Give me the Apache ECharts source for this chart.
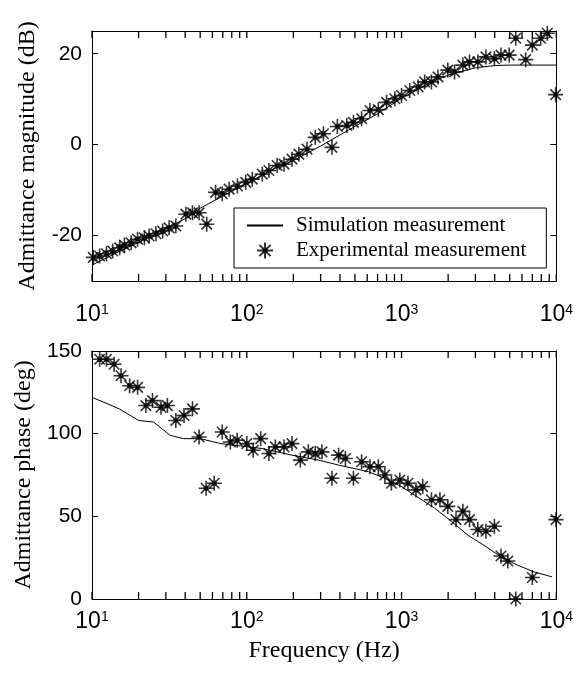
<!DOCTYPE html>
<html>
<head>
<meta charset="utf-8">
<script src="https://cdn.jsdelivr.net/npm/echarts@6/dist/echarts.min.js"></script>
<style>
html,body{margin:0;padding:0;background:#fff;}
#chart{width:576px;height:675px;}
</style>
</head>
<body>
<div id="chart"></div>
<script>
// ---- Data ----
const magExpFreq = [10.2,11.2,12.4,13.6,15.1,16.2,17.9,19.7,21.8,23.4,25.9,28.6,31.5,34.8,40.4,44.6,49.2,55.1,62.9,69.4,76.9,87,98.5,108.6,126,139,157,174,196,217,245,277,313,355,385,443,489,552,625,708,800,905,1000,1130,1280,1410,1560,1720,1990,2200,2490,2750,3110,3510,3980,4390,4960,5470,6340,7000,7920,8750,9900];
const magExpDb   = [-24.8,-24.5,-24.0,-23.4,-22.7,-22.1,-21.6,-20.8,-20.5,-20.1,-19.6,-19.0,-18.3,-17.9,-15.3,-15.0,-15.0,-17.5,-10.5,-10.8,-9.8,-9.1,-8.3,-7.6,-6.5,-5.7,-4.6,-4.3,-3.2,-2.1,-1.0,1.6,2.4,-0.6,4.0,4.2,4.9,5.7,7.5,7.7,9.3,10.1,10.8,11.9,12.7,13.8,13.8,14.9,16.4,16.0,17.5,18.2,18.2,19.3,18.9,19.7,19.7,23.4,18.7,21.9,23.4,24.5,11.0];
const magSimFreq = [10,15,20,30,40,50,70,100,150,200,300,500,700,1000,1500,2000,3000,4000,5000,10000];
const magSimDb   = [-26.5,-23.5,-21.5,-18.5,-16.3,-14,-11.3,-8.5,-5.3,-3.5,-0.3,4.0,6.8,10.2,13.5,15.3,16.9,17.4,17.5,17.5];

const phExpFreq = [11.2,12.4,13.9,15.4,17.5,19.7,22.3,24.6,27.9,30.7,34.8,39.3,44.6,49.2,54.6,61.6,69.4,78.3,86.7,100,110,123,139,153,174,196,222,250,277,306,355,392,434,489,552,625,708,780,860,975,1100,1240,1370,1560,1770,1990,2250,2490,2750,3110,3510,3980,4390,4860,5470,7000,9950];
const phExpDeg  = [145,145,142,135,129,128,117,120,116,117,108,111,115,98,67,70,101,95,96,94,90,97,88,92,92,94,84,89,88,89,73,87,85,73,83,80,80,75,70,72,70,66,68,60,60,56,48,53,48,42,41,44,26,23,0,13,48];
const phSimFreq = [10,15,20,25,32,39,50,68,126,196,291,392,610,780,1000,1630,2100,2690,3410,4390,5600,7180,9380];
const phSimDeg  = [122,115,108,107,99,97,97,94,91,87,84,81,77,73,68,55,47,38.5,32.5,25.5,20.5,16.4,13.4];

const xTickValues = [10,20,30,40,50,60,70,80,90,100,200,300,400,500,600,700,800,900,1000,2000,3000,4000,5000,6000,7000,8000,9000,10000];
const xLabelValues = [10,100,1000,10000];
const magRange = [-30, 25];
const phaseRange = [0, 150];
const magTicks = [-20,0,20];
const phaseTicks = [0,50,100,150];

const zip = (a,b) => a.map((v,i) => [v,b[i]]);

const starPath = 'path://M0,-10L0,10M-10,0L10,0M-7,-7L7,7M-7,7L7,-7M-2.5,-2.5L2.5,-2.5L2.5,2.5L-2.5,2.5Z';
const tickFont = 'Liberation Sans';
const serif = 'Liberation Serif';
const tickStyle = {show: true, inside: true, length: 6, lineStyle: {color: '#000', width: 1}};
const anchorY = [4, 5];

function logAxis(gridIndex, pos, showLabel, margin, name) {
  return {
    type: 'log', logBase: 10, gridIndex: gridIndex, position: pos,
    min: xLabelValues[0], max: xLabelValues[xLabelValues.length - 1],
    axisLine: {show: true, onZeroAxisIndex: anchorY[gridIndex], lineStyle: {color: '#000', width: 1}},
    axisTick: {show: false},
    splitLine: {show: false},
    axisLabel: {
      show: showLabel, margin: margin, customValues: xLabelValues,
      formatter: function (v) { return '{b|10}{s|' + Math.round(Math.log10(v)) + '}'; },
      rich: {
        b: {fontSize: 23, fontFamily: tickFont, color: '#000', padding: [8,0,0,0], lineHeight: 23, verticalAlign: 'bottom'},
        s: {fontSize: 14, fontFamily: tickFont, color: '#000', lineHeight: 14, verticalAlign: 'top'}
      }
    },
    name: name || '', nameLocation: 'middle', nameGap: 40,
    nameTextStyle: {fontFamily: serif, fontSize: 24, color: '#000'}
  };
}
function yAxisDef(gridIndex, pos, range, ticks, showLabel, name) {
  return {
    type: 'value', gridIndex: gridIndex, position: pos, min: range[0], max: range[1],
    axisLine: {show: true, lineStyle: {color: '#000', width: 1}},
    axisTick: Object.assign({customValues: ticks}, tickStyle),
    axisLabel: {show: showLabel, margin: 10, customValues: ticks, fontFamily: tickFont, fontSize: 21, color: '#000'},
    splitLine: {show: false},
    name: name || '', nameLocation: 'middle', nameGap: 52,
    nameTextStyle: {fontFamily: serif, fontSize: 24, color: '#000'}
  };
}
function anchorAxis(gridIndex) {
  return {type: 'value', gridIndex: gridIndex, min: 1, max: 2, show: false};
}
function tickSeries(xAxisIndex, yAxisIndex, yValue, dir) {
  return {
    type: 'scatter', xAxisIndex: xAxisIndex, yAxisIndex: yAxisIndex, silent: true, clip: false,
    data: xTickValues.map(f => [f, yValue]),
    symbol: 'rect', symbolSize: [1.3, 7], symbolOffset: [0, dir * 3.5],
    itemStyle: {color: '#000', opacity: 1}, z: 10
  };
}

const option = {
  animation: false,
  backgroundColor: '#fff',
  grid: [
    {left: 92, top: 31, right: 17, bottom: 394},
    {left: 92, top: 351, right: 17, bottom: 76}
  ],
  legend: {
    left: 234, top: 208, orient: 'vertical',
    data: [
      {name: 'Simulation measurement', itemStyle: {color: 'rgba(0,0,0,0)', borderWidth: 0, opacity: 0}},
      {name: 'Experimental measurement'}
    ],
    backgroundColor: '#fff', borderColor: '#000', borderWidth: 1,
    padding: [7, 20, 7, 12], itemGap: 4, itemWidth: 36, itemHeight: 16,
    textStyle: {fontFamily: serif, fontSize: 21, color: '#000', padding: [0,0,0,8]}
  },
  xAxis: [
    logAxis(0, 'bottom', true, 22),
    logAxis(0, 'top', false, 10),
    logAxis(1, 'bottom', true, 11, 'Frequency (Hz)'),
    logAxis(1, 'top', false, 10)
  ],
  yAxis: [
    yAxisDef(0, 'left', magRange, magTicks, true, 'Admittance magnitude (dB)'),
    yAxisDef(0, 'right', magRange, magTicks, false),
    yAxisDef(1, 'left', phaseRange, phaseTicks, true, 'Admittance phase (deg)'),
    yAxisDef(1, 'right', phaseRange, phaseTicks, false),
    anchorAxis(0),
    anchorAxis(1)
  ],
  series: [
    {name: 'Simulation measurement', type: 'line', xAxisIndex: 0, yAxisIndex: 0,
     data: zip(magSimFreq, magSimDb), symbol: 'none', showSymbol: false, smooth: false,
     lineStyle: {color: '#000', width: 1}, itemStyle: {color: '#000'}},
    {name: 'Experimental measurement', type: 'scatter', xAxisIndex: 0, yAxisIndex: 0,
     data: zip(magExpFreq, magExpDb), symbol: starPath, symbolSize: 15, clip: false,
     itemStyle: {color: '#000', borderColor: '#000', borderWidth: 1.6}},
    {name: 'Simulation phase', type: 'line', xAxisIndex: 2, yAxisIndex: 2,
     data: zip(phSimFreq, phSimDeg), symbol: 'none',
     lineStyle: {color: '#000', width: 1}, itemStyle: {color: '#000'}},
    {name: 'Experimental phase', type: 'scatter', xAxisIndex: 2, yAxisIndex: 2,
     data: zip(phExpFreq, phExpDeg), symbol: starPath, symbolSize: 15, clip: false,
     itemStyle: {color: '#000', borderColor: '#000', borderWidth: 1.6}},
    tickSeries(0, 0, magRange[0], -1),
    tickSeries(0, 0, magRange[1], 1),
    tickSeries(2, 2, phaseRange[0], -1),
    tickSeries(2, 2, phaseRange[1], 1)
  ]
};
const chart = echarts.init(document.getElementById('chart'), null, {renderer: 'canvas'});
chart.setOption(option);
</script>
</body>
</html>
